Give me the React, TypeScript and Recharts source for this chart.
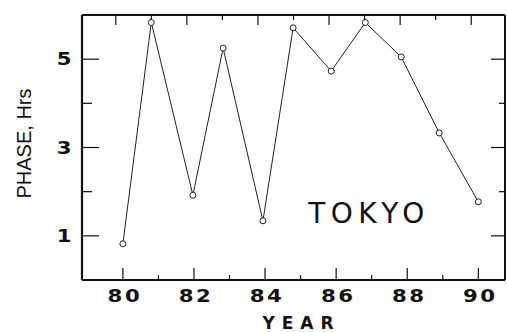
import { LineChart, Line, XAxis, YAxis } from "recharts";

// phase of the daily cycle, Tokyo
const years = [80, 80.8, 81.97, 82.82, 83.94, 84.79, 85.86, 86.82, 87.83, 88.9, 90.0];
const phase = [0.82, 5.83, 1.92, 5.25, 1.34, 5.71, 4.73, 5.83, 5.05, 3.33, 1.77];

const bottomTicks = [80, 81, 82, 83, 84, 85, 86, 87, 88, 89, 90];
const topTicks = [79.8, 80.8, 81.8, 82.8, 83.8, 84.8, 85.8, 86.8, 87.8, 88.8, 89.8];
const yTicks = [1, 2, 3, 4, 5];

const data = years.map((year, i) => ({ year, phase: phase[i] }));

const INK = "#111";
const numFont = {
  fontFamily: "DejaVu Sans",
  fontWeight: "bold" as const,
  fontSize: 17,
  letterSpacing: 2,
  fill: INK,
};

// wide bold digits like the original lettering
const WideNum = ({ x, y, anchor, value }: any) => (
  <text transform={`translate(${x} ${y}) scale(1.25 1)`} x={0} y={0} textAnchor={anchor} {...numFont}>
    {value}
  </text>
);

const LeftTick = (props: any) => {
  const { x, y, payload } = props;
  const major = payload.value % 2 === 1;
  return (
    <g>
      <line x1={x} y1={y} x2={x + (major ? 17 : 10)} y2={y} stroke={INK} strokeWidth={1.2} />
      {major && <WideNum x={x - 8} y={y + 6} anchor="end" value={payload.value} />}
    </g>
  );
};

const RightTick = (props: any) => {
  const { x, y, payload } = props;
  const major = payload.value % 2 === 1;
  return <line x1={x} y1={y} x2={x - (major ? 14 : 6)} y2={y} stroke={INK} strokeWidth={1.2} />;
};

const BottomTick = (props: any) => {
  const { x, y, payload } = props;
  const major = payload.value % 2 === 0;
  return (
    <g>
      <line x1={x} y1={y} x2={x} y2={y - (major ? 12 : 5)} stroke={INK} strokeWidth={1.2} />
      {major && <WideNum x={x + 2} y={y + 22} anchor="middle" value={payload.value} />}
    </g>
  );
};

const TopTick = (props: any) => {
  const { x, y, index } = props;
  const long = index % 2 === 0;
  return <line x1={x} y1={y} x2={x} y2={y + (long ? 10 : 5)} stroke={INK} strokeWidth={1.2} />;
};

export default function App() {
  return (
    <div style={{ position: "fixed", left: 0, top: 0, background: "#fff" }}>
      <LineChart width={507} height={332} data={data} margin={{ top: 14, right: 1, left: 0, bottom: 0 }}>
        <XAxis
          xAxisId="bottom"
          type="number"
          dataKey="year"
          domain={[78.85, 90.75]}
          ticks={bottomTicks}
          interval={0}
          height={52}
          tickSize={0}
          tickMargin={0}
          tickLine={false}
          tick={<BottomTick />}
          axisLine={{ stroke: INK, strokeWidth: 2 }}
          label={{
            content: (p: any) => (
              <text
                x={p.viewBox.x + p.viewBox.width / 2 + 8}
                y={329}
                textAnchor="middle"
                fontFamily="DejaVu Sans"
                fontWeight="bold"
                fontSize={17}
                letterSpacing={7}
                fill={INK}
              >
                YEAR
              </text>
            ),
          }}
        />
        <XAxis
          xAxisId="top"
          orientation="top"
          type="number"
          dataKey="year"
          domain={[78.85, 90.75]}
          ticks={topTicks}
          interval={0}
          height={1}
          tickSize={0}
          tickMargin={0}
          tickLine={false}
          tick={<TopTick />}
          axisLine={{ stroke: INK, strokeWidth: 2 }}
        />
        <YAxis
          yAxisId="left"
          type="number"
          domain={[0, 6]}
          ticks={yTicks}
          interval={0}
          width={82}
          tickSize={0}
          tickMargin={0}
          tickLine={false}
          tick={<LeftTick />}
          axisLine={{ stroke: INK, strokeWidth: 2.2 }}
          label={{
            content: (p: any) => {
              const cx = 24;
              const cy = p.viewBox.y + p.viewBox.height / 2 - 4;
              return (
                <text
                  x={cx}
                  y={cy}
                  transform={`rotate(-90 ${cx} ${cy})`}
                  textAnchor="middle"
                  dominantBaseline="central"
                  fontFamily="Liberation Sans"
                  fontSize={20}
                  fill={INK}
                >
                  PHASE, Hrs
                </text>
              );
            },
          }}
        />
        <YAxis
          yAxisId="right"
          orientation="right"
          type="number"
          domain={[0, 6]}
          ticks={yTicks}
          interval={0}
          width={1}
          tickSize={0}
          tickMargin={0}
          tickLine={false}
          tick={<RightTick />}
          axisLine={{ stroke: INK, strokeWidth: 2 }}
        />
        <Line
          xAxisId="top"
          yAxisId="right"
          dataKey="phase"
          stroke="none"
          dot={false}
          activeDot={false}
          isAnimationActive={false}
        />
        <Line
          xAxisId="bottom"
          yAxisId="left"
          type="linear"
          dataKey="phase"
          stroke="#222"
          strokeWidth={1}
          dot={{ r: 3, stroke: "#222", strokeWidth: 1, fill: "#fff" }}
          activeDot={false}
          isAnimationActive={false}
        />
        <text
          x={369}
          y={223}
          textAnchor="middle"
          fontFamily="DejaVu Sans"
          fontSize={28}
          letterSpacing={5.5}
          fill={INK}
        >
          TOKYO
        </text>
      </LineChart>
    </div>
  );
}
